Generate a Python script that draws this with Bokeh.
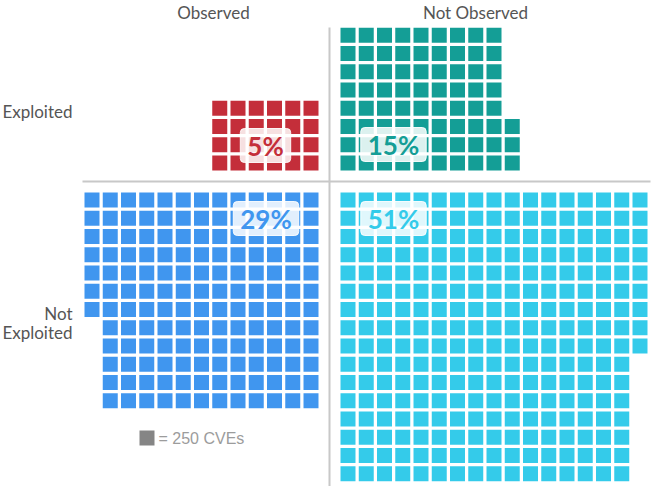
from bokeh.plotting import figure
from bokeh.models import Range1d, Label
from bokeh.embed import file_html
from bokeh.resources import INLINE

# ---- data ----
col_labels = ["Observed", "Not Observed"]
row_labels = ["Exploited", "Not\nExploited"]
# quadrant order: (Observed, Exploited), (Not Observed, Exploited),
#                 (Observed, Not Exploited), (Not Observed, Not Exploited)
quad_counts = [24, 75, 151, 265]          # squares, each = 250 CVEs
quad_rows = [4, 8, 12, 16]                # squares per column
quad_pct = ["5%", "15%", "29%", "51%"]
quad_colors = ["#c42e3a", "#149e96", "#4096ef", "#34cbea"]
unit_label = "= 250 CVEs"

# ---- layout (reference pixel space, y downwards) ----
PITCH = 18.25
SIZE = 15.0
X_IN = {-1: 318.0, 1: 340.0}   # inner edges of left / right quadrants
Y_IN = {-1: 170.0, 1: 192.0}   # inner edges of top / bottom quadrants
quad_dirs = [(-1, -1), (1, -1), (-1, 1), (1, 1)]
label_pos = [(265, 145), (393, 144), (265.5, 218), (393, 218)]
LINE_STEP = 19

p = figure(width=652, height=486, x_range=Range1d(0, 652), y_range=Range1d(486, 0),
           output_backend="svg", toolbar_location=None, min_border=0,
           x_axis_location=None, y_axis_location=None, outline_line_color=None,
           background_fill_color="white", border_fill_color="white")
p.grid.visible = False

# dividers
p.segment(x0=[329], y0=[27], x1=[329], y1=[486], line_color="#c8c8c8", line_width=2)
p.segment(x0=[82], y0=[181], x1=[650], y1=[181], line_color="#c8c8c8", line_width=2)

for count, rows, color, (dx, dy) in zip(quad_counts, quad_rows, quad_colors, quad_dirs):
    xs, ys = [], []
    for i in range(count):
        c, r = divmod(i, rows)
        xs.append(X_IN[dx] + dx * (c * PITCH + SIZE / 2))
        ys.append(Y_IN[dy] + dy * (r * PITCH + SIZE / 2))
    p.rect(x=xs, y=ys, width=SIZE, height=SIZE, fill_color=color, line_color=None)

for txt, color, (lx, ly) in zip(quad_pct, quad_colors, label_pos):
    p.add_layout(Label(x=lx, y=ly, text=txt, text_align="center", text_baseline="middle",
                       text_font="Lato", text_font_style="bold", text_font_size="26px",
                       text_color=color, background_fill_color="white",
                       background_fill_alpha=0.85, border_line_color="white",
                       border_line_alpha=0.9, border_radius=4,
                       padding=dict(left=7, right=7, top=1, bottom=1)))

# category labels
for txt, cx in zip(col_labels, [213, 475]):
    p.add_layout(Label(x=cx, y=12, text=txt, text_align="center", text_baseline="middle",
                       text_font="Lato", text_font_size="17px", text_color="#555555"))
for txt, cy in zip(row_labels, [111, 322]):
    lines = txt.split("\n")
    y0 = cy - LINE_STEP * (len(lines) - 1) / 2
    for k, line in enumerate(lines):
        p.add_layout(Label(x=72, y=y0 + k * LINE_STEP, text=line, text_align="right",
                           text_baseline="middle", text_font="Lato", text_font_size="17px",
                           text_color="#555555"))

# unit legend
p.rect(x=[146.5], y=[437.5], width=SIZE, height=SIZE, fill_color="#858585", line_color=None)
p.add_layout(Label(x=158, y=438, text=unit_label, text_align="left", text_baseline="middle",
                   text_font="Liberation Sans", text_font_size="16px", text_color="#9c9c9c"))

open("out.html", "w").write(file_html(p, INLINE))
